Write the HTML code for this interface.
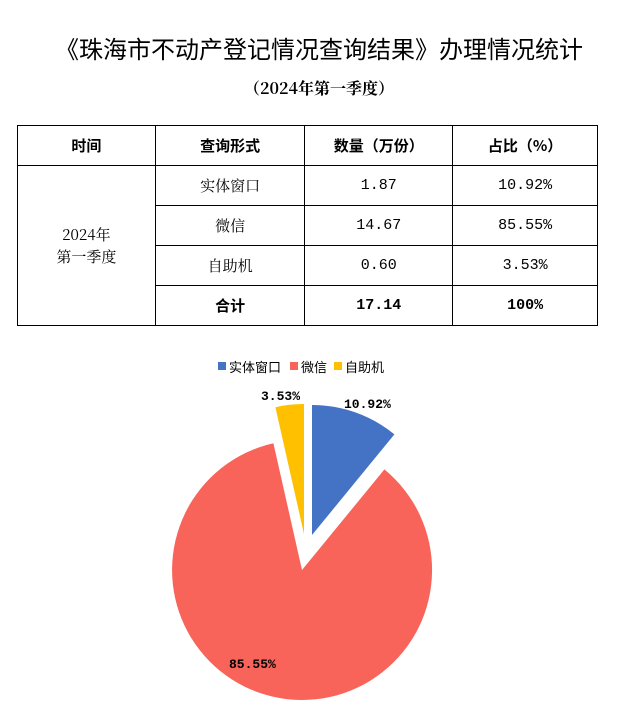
<!DOCTYPE html>
<html><head><meta charset="utf-8"><style>
body{margin:0;background:#fff;width:638px;height:717px;position:relative;overflow:hidden;font-family:"Liberation Serif","Noto Serif CJK SC",serif;color:#000}
.t{position:absolute;left:0;width:638px;text-align:center}
table{position:absolute;left:17px;top:125px;border-collapse:collapse;width:581px}
td{border:1px solid #000;height:39px;text-align:center;font-size:15px;padding:0;font-family:"Noto Serif CJK SC",serif}
.m{font-family:"Liberation Mono",monospace}
.b{font-weight:bold}
</style></head><body>
<div class="t" style="top:30px;font-size:24px;font-family:'Noto Sans CJK SC',sans-serif;">《珠海市不动产登记情况查询结果》办理情况统计</div>
<div class="t b" style="top:76px;font-size:16px;font-family:'Noto Serif CJK SC',serif;">（2024年第一季度）</div>
<table>
<colgroup><col style="width:138px"><col style="width:150px"><col style="width:148px"><col style="width:145px"></colgroup>
<tr class="b"><td style="font-family:'Noto Sans CJK SC',sans-serif">时间</td><td style="font-family:'Noto Sans CJK SC',sans-serif">查询形式</td><td style="font-family:'Noto Sans CJK SC',sans-serif">数量（万份）</td><td style="font-family:'Noto Sans CJK SC',sans-serif">占比（%）</td></tr>
<tr><td rowspan="4" style="line-height:22px">2024年<br>第一季度</td><td>实体窗口</td><td class="m">1.87</td><td class="m">10.92%</td></tr>
<tr><td>微信</td><td class="m">14.67</td><td class="m">85.55%</td></tr>
<tr><td>自助机</td><td class="m">0.60</td><td class="m">3.53%</td></tr>
<tr class="b"><td style="font-family:'Noto Sans CJK SC',sans-serif">合计</td><td class="m">17.14</td><td class="m">100%</td></tr>
</table>
<svg style="position:absolute;left:0;top:0" width="638" height="717">
<g font-family="Noto Sans CJK SC, sans-serif" font-size="13">
<rect x="218" y="362" width="8" height="8" fill="#4472C4"/><text x="229" y="372">实体窗口</text>
<rect x="290" y="362" width="8" height="8" fill="#F8645A"/><text x="301" y="372">微信</text>
<rect x="334" y="362" width="8" height="8" fill="#FFC000"/><text x="345" y="372">自助机</text>
</g>
<path d="M312,535 L312,405 A130,130 0 0 1 394.4,434.4 Z" fill="#4472C4"/>
<path d="M302,570 L384.4,469.4 A130,130 0 1 1 273.4,443.2 Z" fill="#F8645A"/>
<path d="M304,534 L275.4,407.2 A130,130 0 0 1 304,404 Z" fill="#FFC000"/>
<g font-family="Liberation Mono, monospace" font-size="13" font-weight="bold">
<text x="344" y="408">10.92%</text>
<text x="261" y="400">3.53%</text>
<text x="229" y="668">85.55%</text>
</g>
</svg>
</body></html>
